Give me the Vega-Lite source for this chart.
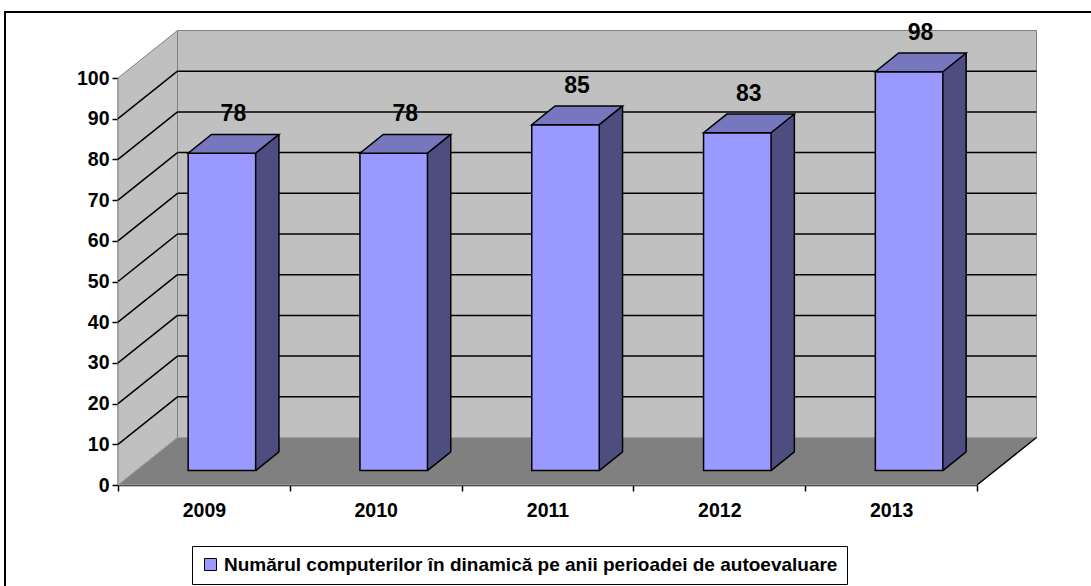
{
  "$schema": "https://vega.github.io/schema/vega-lite/v6.json",
  "width": 1086,
  "height": 574,
  "autosize": {"type": "none"},
  "padding": {"left": 5, "top": 12, "right": 0, "bottom": 0},
  "background": "white",
  "config": {
    "view": {"stroke": "black", "strokeWidth": 2, "strokeDash": [1086, 1660, 600, 10], "fill": null},
    "font": "Liberation Sans"
  },
  "datasets": {
    "bars": [
      {"year": 2009, "value": 78},
      {"year": 2010, "value": 78},
      {"year": 2011, "value": 85},
      {"year": 2012, "value": 83},
      {"year": 2013, "value": 98}
    ],
    "grid": [
      {"v": 10}, {"v": 20}, {"v": 30}, {"v": 40}, {"v": 50},
      {"v": 60}, {"v": 70}, {"v": 80}, {"v": 90}
    ]
  },
  "data": {"name": "bars"},
  "layer": [
    {
      "data": {"values": [{}]},
      "mark": {"type": "rect", "fill": "#C0C0C0", "stroke": "#808080", "strokeWidth": 1,
               "xOffset": 59.5, "x2Offset": 59.5, "yOffset": -47.5, "y2Offset": -47.5},
      "encoding": {
        "x": {"datum": 2008.5, "type": "quantitative",
              "scale": {"domain": [2008.5, 2013.5], "range": [113, 972], "nice": false, "zero": false, "padding": 0},
              "axis": {"orient": "bottom", "offset": -101,
                       "values": [2008.5, 2009.5, 2010.5, 2011.5, 2012.5, 2013.5],
                       "labelExpr": "datum.value > 2013 ? '' : format(datum.value + 0.5, 'd')",
                       "labelOffset": 85.9, "labelFlush": false, "labelOverlap": false, "labelBound": false,
                       "tickSize": 6, "tickColor": "black", "tickWidth": 1.5,
                       "domainColor": "black", "domainWidth": 1.5,
                       "labelFont": "Liberation Sans", "labelFontWeight": "bold", "labelFontSize": 19.5,
                       "labelColor": "black", "labelPadding": 10, "title": null, "grid": false}},
        "x2": {"datum": 2013.5},
        "y": {"datum": 0, "type": "quantitative",
              "scale": {"domain": [0, 100], "range": [473, 66], "nice": false, "zero": true, "padding": 0},
              "axis": {"orient": "left", "offset": -113,
                       "values": [0, 10, 20, 30, 40, 50, 60, 70, 80, 90, 100],
                       "tickSize": 6, "tickColor": "black", "tickWidth": 1.5,
                       "domainColor": "black", "domainWidth": 1.5, "labelFlush": false, "labelOverlap": false,
                       "labelFont": "Liberation Sans", "labelFontWeight": "bold", "labelFontSize": 19.5,
                       "labelColor": "black", "labelPadding": 3, "title": null, "grid": false}},
        "y2": {"datum": 100}
      }
    },
    {
      "data": {"values": [{}]},
      "mark": {"type": "point", "shape": "M0 0 L0 -407 L59.5 -454.5 L59.5 -47.5 Z", "size": 4,
               "filled": true, "fill": "#C0C0C0", "stroke": "#808080", "strokeWidth": 1, "opacity": 1},
      "encoding": {
        "x": {"datum": 2008.5, "type": "quantitative"},
        "y": {"datum": 0, "type": "quantitative"}
      }
    },
    {
      "data": {"name": "grid"},
      "mark": {"type": "rule", "color": "black", "strokeWidth": 1.5,
               "xOffset": 59.5, "x2Offset": 59.5, "yOffset": -47.5},
      "encoding": {
        "x": {"datum": 2008.5, "type": "quantitative"},
        "x2": {"datum": 2013.5},
        "y": {"field": "v", "type": "quantitative"}
      }
    },
    {
      "data": {"name": "grid"},
      "mark": {"type": "rule", "color": "black", "strokeWidth": 1.5,
               "x2Offset": 59.5, "y2Offset": -47.5},
      "encoding": {
        "x": {"datum": 2008.5, "type": "quantitative"},
        "x2": {"datum": 2008.5},
        "y": {"field": "v", "type": "quantitative"},
        "y2": {"field": "v"}
      }
    },
    {
      "data": {"values": [{}]},
      "mark": {"type": "point", "shape": "M0 0 L859 0 L918.5 -47.5 L59.5 -47.5 Z", "size": 4,
               "filled": true, "fill": "#808080", "stroke": "#A0A0A0", "strokeWidth": 1, "opacity": 1},
      "encoding": {
        "x": {"datum": 2008.5, "type": "quantitative"},
        "y": {"datum": 0, "type": "quantitative"}
      }
    },
    {
      "data": {"values": [{}]},
      "mark": {"type": "point", "shape": "M859 0 L918.5 -47.5", "size": 4,
               "filled": false, "fill": null, "stroke": "black", "strokeWidth": 1.5, "opacity": 1},
      "encoding": {
        "x": {"datum": 2008.5, "type": "quantitative"},
        "y": {"datum": 0, "type": "quantitative"}
      }
    },
    {
      "mark": {"type": "bar", "width": 23.3, "fill": "#4D4D80", "stroke": null,
               "xOffset": 63.4, "yOffset": -33.1, "y2Offset": -14.4},
      "encoding": {
        "x": {"field": "year", "type": "quantitative"},
        "y": {"field": "value", "type": "quantitative"},
        "y2": {"datum": 0}
      }
    },
    {
      "mark": {"type": "point", "shape": "M0 0 L23.3 -18.7 L25 -18.7 L25 1 L0 1 Z", "size": 4,
               "filled": true, "fill": "#808080", "stroke": null, "opacity": 1,
               "xOffset": 51.75, "yOffset": -14.4},
      "encoding": {
        "x": {"field": "year", "type": "quantitative"},
        "y": {"datum": 0, "type": "quantitative"}
      }
    },
    {
      "mark": {"type": "point", "shape": "M0 0 L23.3 -18.7", "size": 4,
               "filled": false, "fill": null, "stroke": "black", "strokeWidth": 1.5, "opacity": 1,
               "xOffset": 51.75, "yOffset": -14.4},
      "encoding": {
        "x": {"field": "year", "type": "quantitative"},
        "y": {"datum": 0, "type": "quantitative"}
      }
    },
    {
      "mark": {"type": "rule", "color": "black", "strokeWidth": 1.5,
               "xOffset": 75.05, "yOffset": -33.1, "y2Offset": -33.1},
      "encoding": {
        "x": {"field": "year", "type": "quantitative"},
        "y": {"field": "value", "type": "quantitative"},
        "y2": {"datum": 0}
      }
    },
    {
      "mark": {"type": "bar", "width": 67.5, "stroke": "black", "strokeWidth": 1.5,
               "xOffset": 18, "yOffset": -14.4, "y2Offset": -14.4},
      "encoding": {
        "x": {"field": "year", "type": "quantitative"},
        "y": {"field": "value", "type": "quantitative"},
        "y2": {"datum": 0},
        "color": {"datum": "Numărul computerilor în dinamică pe anii perioadei de autoevaluare", "type": "nominal",
                  "scale": {"range": ["#9999FF"]},
                  "legend": {"orient": "none", "legendX": 187, "legendY": 534, "title": null,
                             "padding": 9, "strokeColor": "black", "fillColor": "white",
                             "symbolType": "square", "symbolSize": 144, "symbolStrokeColor": "black",
                             "symbolStrokeWidth": 1, "symbolFillColor": "#9999FF", "symbolOpacity": 1,
                             "labelFont": "Liberation Sans", "labelFontWeight": "bold", "labelFontSize": 19,
                             "labelColor": "black", "labelLimit": 0, "labelOffset": 4}}
      }
    },
    {
      "mark": {"type": "point", "shape": "M0 0 L67.5 0 L90.8 -18.7 L23.3 -18.7 Z", "size": 4,
               "filled": true, "fill": "#7777BF", "stroke": "black", "strokeWidth": 1.5, "opacity": 1,
               "xOffset": -15.75, "yOffset": -14.4},
      "encoding": {
        "x": {"field": "year", "type": "quantitative"},
        "y": {"field": "value", "type": "quantitative"}
      }
    },
    {
      "mark": {"type": "text", "font": "Liberation Sans", "fontWeight": "bold", "fontSize": 23,
               "color": "black", "align": "center", "baseline": "middle", "dx": 29.5, "dy": -53.4},
      "encoding": {
        "x": {"field": "year", "type": "quantitative"},
        "y": {"field": "value", "type": "quantitative"},
        "text": {"field": "value", "type": "quantitative"}
      }
    }
  ]
}
